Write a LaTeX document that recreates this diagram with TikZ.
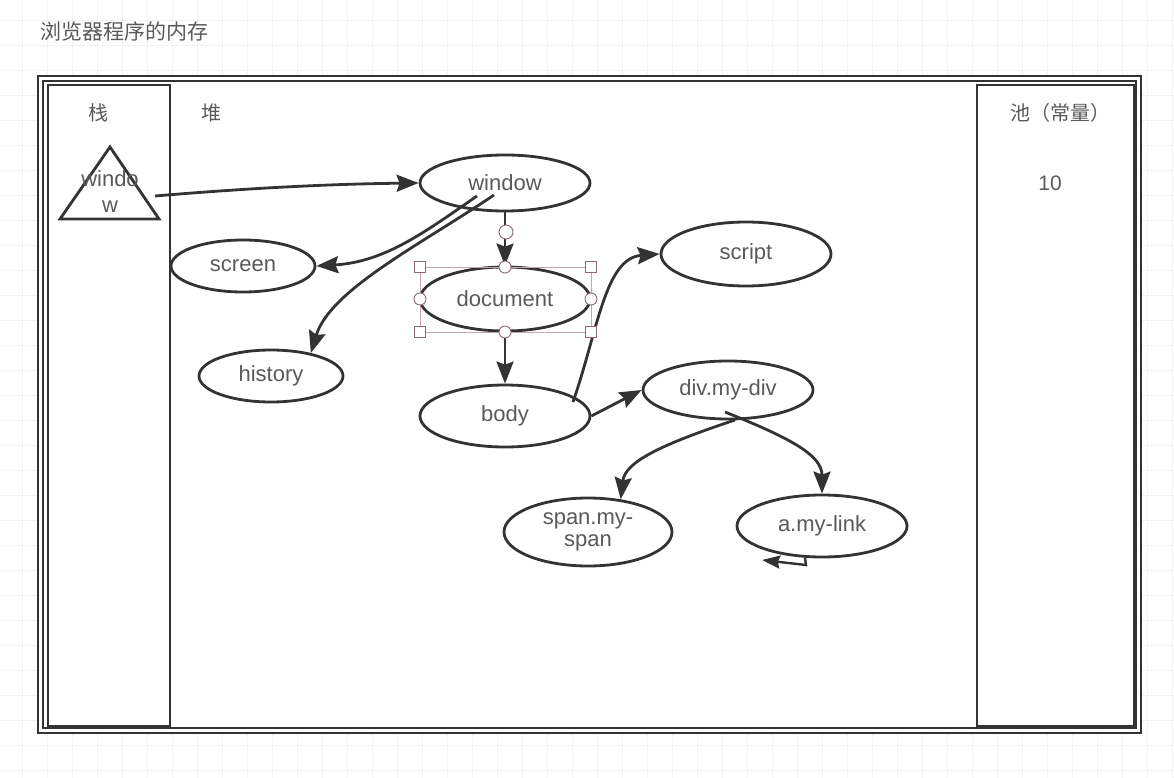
\documentclass[tikz,border=0pt]{standalone}
\usepackage{fontspec}
\setmainfont{Liberation Sans}
\newfontfamily\cjk{Noto Sans CJK SC}
\usetikzlibrary{arrows.meta,shapes.geometric}
\definecolor{txt}{HTML}{5A5A5A}
\definecolor{ln}{HTML}{333333}
\definecolor{sel}{HTML}{C9A4AD}
\definecolor{hdl}{HTML}{8E6A72}
\tikzset{
  ell/.style={ellipse, draw=ln, line width=2.8pt, inner sep=0pt, text=txt,
    font=\fontsize{22}{25}\selectfont, align=center},
  arr/.style={draw=ln, line width=2.8pt, -{Stealth[length=22pt,width=17pt,inset=3pt]}},
  lbl/.style={text=txt, inner sep=0pt, font=\cjk\fontsize{20}{24}\selectfont},
  box/.style={draw=ln, line width=2.8pt},
  sqh/.style={draw=hdl, fill=white, line width=0.9pt, minimum size=11pt, inner sep=0pt, rectangle},
  cih/.style={draw=hdl, fill=white, line width=0.9pt, minimum size=12pt, inner sep=0pt, circle},
}
\begin{document}
\begin{tikzpicture}[x=1pt,y=-1pt]
\useasboundingbox (0,0) rectangle (1174,778);
\fill[white] (0,0) rectangle (1174,778);
% faint grid
\foreach \gx in {22,47,...,1172} \draw[black!5, line width=0.8pt] (\gx,0) -- (\gx,778);
\foreach \gy in {20,45,...,776} \draw[black!5, line width=0.8pt] (0,\gy) -- (1174,\gy);

% title
\node[lbl, anchor=west, font=\cjk\fontsize{21}{24}\selectfont] (title) at (40,32) {浏览器程序的内存};

% outer double frame
\fill[white] (38,76) rectangle (1141,733);
\draw[box] (38,76) rectangle (1141,733);
\draw[ln, line width=1.8pt] (43,81) rectangle (1136,728);
% stack and pool
\draw[box] (48,85) rectangle (170,726);
\draw[box] (977,85) rectangle (1134,726);

\node[lbl] (stack) at (98,113) {栈};
\node[lbl] (heap) at (211,113) {堆};
\node[lbl] (pool) at (1060,113) {池（常量）};
\node[text=txt, font=\fontsize{21}{24}\selectfont] (ten) at (1050,183) {10};

% triangle in stack
\draw[ln, line width=2.8pt, line join=miter] (110,147) -- (60,219) -- (159,219) -- cycle;
\node[text=txt, font=\fontsize{22}{25}\selectfont, align=center, inner sep=0pt] (tri) at (110,192) {windo\\[1pt]w};
\coordinate (triR) at (155,196);

% ellipses
\node[ell, minimum width=170pt, minimum height=56pt] (window) at (505,183) {window};
\node[ell, minimum width=144pt, minimum height=52pt] (screen) at (243,266) {screen};
\node[ell, minimum width=170pt, minimum height=64pt] (document) at (505,299) {document};
\node[ell, minimum width=144pt, minimum height=52pt] (history) at (271,376) {history};
\node[ell, minimum width=170pt, minimum height=62pt] (body) at (505,416) {body};
\node[ell, minimum width=170pt, minimum height=64pt] (script) at (746,254) {script};
\node[ell, minimum width=170pt, minimum height=58pt] (divn) at (728,390) {div.my-div};
\node[ell, minimum width=168pt, minimum height=68pt, font=\fontsize{22}{22}\selectfont] (span) at (588,532) {span.my-\\span};
\node[ell, minimum width=170pt, minimum height=62pt] (alink) at (822,526) {a.my-link};

% connectors
\draw[arr] (triR) .. controls (250,188) and (330,184) .. (window.west);
\draw[arr] ([xshift=-28pt,yshift=-13pt]window.center) .. controls (425,232) and (385,262) .. (screen.east);
\draw[arr] ([xshift=-11pt,yshift=-12pt]window.center) .. controls (420,245) and (330,290) .. (history.30);
\draw[arr] (window.south) -- (document.north);
\draw[arr] (document.south) -- (body.north);
\draw[arr] ([xshift=68pt,yshift=14pt]body.center) .. controls (598,330) and (605,258) .. (script.west);
\draw[arr] (body.east) -- (divn.west);
\draw[arr] ([xshift=7pt,yshift=-30pt]divn.center) .. controls (660,445) and (625,462) .. (span.45);
\draw[arr] ([xshift=-3pt,yshift=-22pt]divn.center) .. controls (790,438) and (822,455) .. (alink.north);
\draw[draw=ln, line width=2.4pt, -{Stealth[length=18pt,width=13pt,inset=2pt]}]
  ([xshift=-17pt,yshift=-32pt]alink.center) -- ++(1,7) -- ++(-44,-5);

% selection handles on document
\draw[sel, line width=1pt] (420,267) rectangle (591,332);
\node[sqh] (h1) at (420,267) {};
\node[sqh] (h2) at (591,267) {};
\node[sqh] (h3) at (420,332) {};
\node[sqh] (h4) at (591,332) {};
\node[cih] (h5) at (505,267) {};
\node[cih] (h6) at (505,332) {};
\node[cih] (h7) at (420,299) {};
\node[cih] (h8) at (591,299) {};
\node[cih, minimum size=14pt] (h9) at (506,232) {};
\end{tikzpicture}
\end{document}
